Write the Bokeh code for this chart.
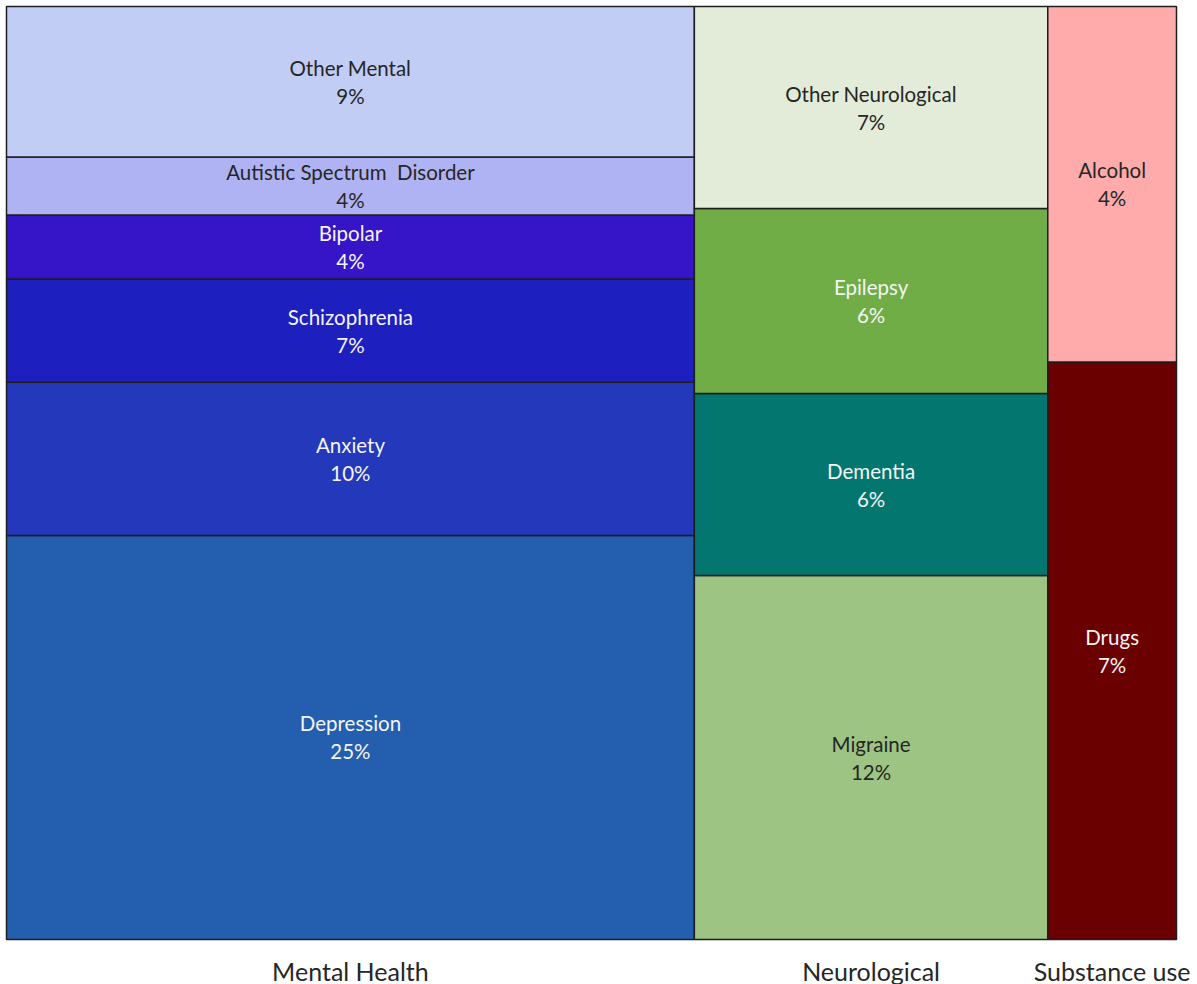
from bokeh.plotting import figure
from bokeh.models import Range1d, ColumnDataSource
from bokeh.core.properties import value
from bokeh.embed import file_html
from bokeh.resources import INLINE

# ---- data ----
groups = ["Mental Health", "Neurological", "Substance use"]
mental_names = ["Depression", "Anxiety", "Schizophrenia", "Bipolar",
                "Autistic Spectrum\u00a0 Disorder", "Other Mental"]
mental_values = [25.46, 9.64, 6.51, 4.03, 3.66, 9.48]
neuro_names = ["Migraine", "Dementia", "Epilepsy", "Other Neurological"]
neuro_values = [11.78, 5.89, 5.99, 6.54]
subst_names = ["Drugs", "Alcohol"]
subst_values = [6.81, 4.19]

mental_colors = ["#235FAE", "#2338BA", "#1D1FBF", "#3615C9", "#B0B3F3", "#C2CDF6"]
neuro_colors = ["#9EC484", "#03766F", "#70AD47", "#E2ECD9"]
subst_colors = ["#6B0000", "#FFABAB"]
mental_text = ["#F4F4F4", "#F4F4F4", "#F4F4F4", "#F4F4F4", "#262626", "#262626"]
neuro_text = ["#262626", "#F4F4F4", "#F4F4F4", "#262626"]
subst_text = ["#F4F4F4", "#262626"]

columns = [
    (mental_names, mental_values, mental_colors, mental_text),
    (neuro_names, neuro_values, neuro_colors, neuro_text),
    (subst_names, subst_values, subst_colors, subst_text),
]

left, right, bottom, top, fill, names, pcts, cx, cy, tcol = ([] for _ in range(10))
col_centers = []
x0 = 0.0
for nms, vals, cols, tc in columns:
    total = sum(vals)
    x1 = x0 + total
    col_centers.append((x0 + x1) / 2)
    b = 0.0
    for n, v, c, t in zip(nms, vals, cols, tc):
        t_ = b + v / total
        left.append(x0); right.append(x1); bottom.append(b); top.append(t_)
        fill.append(c); names.append(n); pcts.append(f"{round(v)}%")
        cx.append((x0 + x1) / 2); cy.append((b + t_) / 2); tcol.append(t)
        b = t_
    x0 = x1
grand = x0

W, H = 1197, 984
fl, fr, ft, fb = 6, 1176, 6, 939
sx = (fr - fl) / grand
sy = (fb - ft) / 1.0

p = figure(width=W, height=H, output_backend="svg", toolbar_location=None,
           min_border=0, x_axis_type=None, y_axis_type=None,
           x_range=Range1d(-fl / sx, grand + (W - fr) / sx),
           y_range=Range1d(-(H - fb) / sy, 1 + ft / sy))
p.outline_line_color = None
p.grid.visible = False
p.background_fill_color = "white"
p.border_fill_color = "white"

src = ColumnDataSource(dict(left=left, right=right, bottom=bottom, top=top,
                            fill=fill, names=names, pcts=pcts, cx=cx, cy=cy, tcol=tcol))
p.quad(left="left", right="right", bottom="bottom", top="top", source=src,
       fill_color="fill", line_color="#1E1E1E", line_width=1.5)

font = value("Lato")
p.text(x="cx", y="cy", text="names", source=src, text_color="tcol",
       text_font=font, text_font_size="20.5px", text_align="center",
       text_baseline="middle", y_offset=-14)
p.text(x="cx", y="cy", text="pcts", source=src, text_color="tcol",
       text_font=font, text_font_size="20.5px", text_align="center",
       text_baseline="middle", y_offset=14)

gsrc = ColumnDataSource(dict(x=col_centers, y=[0] * 3, t=groups))
p.text(x="x", y="y", text="t", source=gsrc, text_color="#262626",
       text_font=font, text_font_size="25px", text_align="center",
       text_baseline="middle", y_offset=31)

open("out.html", "w").write(file_html(p, INLINE))
